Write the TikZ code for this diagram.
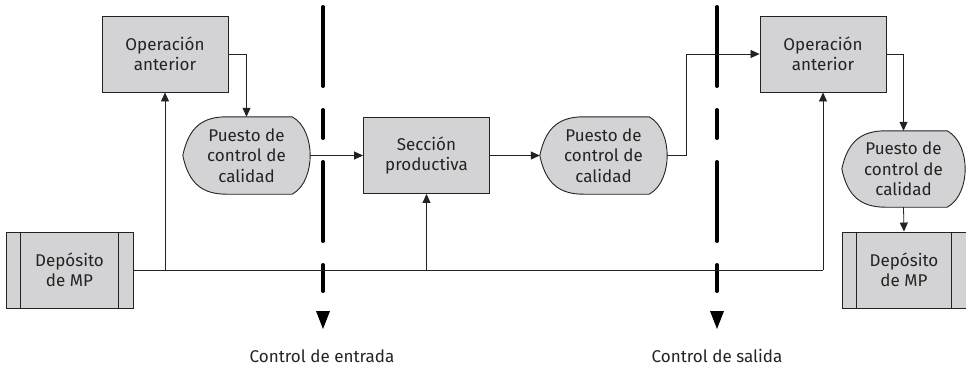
\documentclass[tikz,border=0pt]{standalone}
\usepackage{fontspec}
\setmainfont{Fira Sans}
\usetikzlibrary{arrows.meta}
\pgfdeclarelayer{background}
\pgfsetlayers{background,main}
\definecolor{boxgray}{RGB}{211,211,213}
\definecolor{linec}{RGB}{35,35,35}
\tikzset{
  every node/.style={font=\fontsize{17}{20.5}\selectfont, align=center, text=linec},
  opbox/.style={draw=linec, fill=boxgray, line width=0.9pt, minimum width=126pt, minimum height=76pt, inner sep=0pt},
  dispnode/.style={minimum width=127pt, minimum height=77pt, inner sep=0pt},
  depbox/.style={draw=linec, fill=boxgray, line width=0.9pt, minimum width=127pt, minimum height=76pt, inner sep=0pt},
  conn/.style={draw=linec, line width=0.8pt},
  arr/.style={conn, -{Triangle[length=9pt,width=8pt]}},
  ctrlline/.style={draw=black, line width=4pt, line cap=round, dash pattern=on 79pt off 24pt on 28pt off 24pt},
  lbl/.style={font=\fontsize{17}{20}\selectfont}
}
\newcommand{\dispshape}[1]{%
  \begin{pgfonlayer}{background}
  \path[draw=linec, fill=boxgray, line width=0.9pt]
    (#1.west) .. controls ([xshift=6pt,yshift=-10pt]#1.west |- #1.north) and ([xshift=20pt]#1.west |- #1.north) .. ([xshift=44pt]#1.north west)
    -- ([xshift=-18pt]#1.north east)
    .. controls ([xshift=-5pt,yshift=-7pt]#1.north east) and ([yshift=14pt]#1.east) .. (#1.east)
    .. controls ([yshift=-14pt]#1.east) and ([xshift=-5pt,yshift=7pt]#1.south east) .. ([xshift=-18pt]#1.south east)
    -- ([xshift=44pt]#1.south west)
    .. controls ([xshift=20pt]#1.west |- #1.south) and ([xshift=6pt,yshift=10pt]#1.west |- #1.south) .. (#1.west) -- cycle;
  \end{pgfonlayer}}
\newcommand{\depshape}[1]{%
  \draw[linec, line width=0.9pt] ([xshift=15pt]#1.north west) -- ([xshift=15pt]#1.south west)
    ([xshift=-15pt]#1.north east) -- ([xshift=-15pt]#1.south east);}
\begin{document}
\begin{tikzpicture}[x=1pt,y=-1pt]
\useasboundingbox (0,0) rectangle (966,368);
% control lines
\coordinate (c1t) at (323,7);
\coordinate (c1b) at (323,291);
\coordinate (c2t) at (717,7);
\coordinate (c2b) at (717,291);
\draw[ctrlline] (c1t) -- (c1b);
\draw[ctrlline] (c2t) -- (c2b);
\fill[black] (316,311) -- (330,311) -- (323,329) -- cycle;
\fill[black] (710,311) -- (724,311) -- (717,329) -- cycle;
\node[lbl] (l1) at (322,356) {Control de entrada};
\node[lbl] (l2) at (717,356) {Control de salida};
% nodes
\node[opbox] (op1) at (165,54) {Operación\\anterior};
\node[dispnode] (pc1) at (246.5,155.5) {Puesto de\\control de\\calidad};
\dispshape{pc1}
\node[depbox] (dep1) at (69.5,270) {Depósito\\de MP};
\depshape{dep1}
\node[opbox] (sec) at (426.5,155.5) {Sección\\productiva};
\node[dispnode] (pc2) at (603.5,155.5) {Puesto de\\control de\\calidad};
\dispshape{pc2}
\node[opbox] (op2) at (823,54) {Operación\\anterior};
\node[dispnode, minimum width=123pt, minimum height=76pt] (pc3) at (903.5,169) {Puesto de\\control de\\calidad};
\dispshape{pc3}
\node[depbox, minimum width=124pt] (dep2) at (904,270) {Depósito\\de MP};
\depshape{dep2}
% connectors
\coordinate (j1) at (165,270);
\coordinate (j2) at (426.5,270);
\coordinate (j3) at (823,270);
\draw[conn] (dep1.east) -- (j3);
\draw[arr] (j1) -- (op1.south);
\draw[arr] (j2) -- (sec.south);
\draw[arr] (j3) -- (op2.south);
\draw[arr] (op1.east) -| (pc1.north);
\draw[arr] (pc1.east) -- (sec.west);
\draw[arr] (sec.east) -- (pc2.west);
\coordinate (k1) at (686,155.5);
\draw[arr] (pc2.east) -- (k1) |- (op2.west);
\draw[arr] (op2.east) -| (pc3.north);
\draw[arr] (pc3.south) -- (dep2.north);
\end{tikzpicture}
\end{document}
